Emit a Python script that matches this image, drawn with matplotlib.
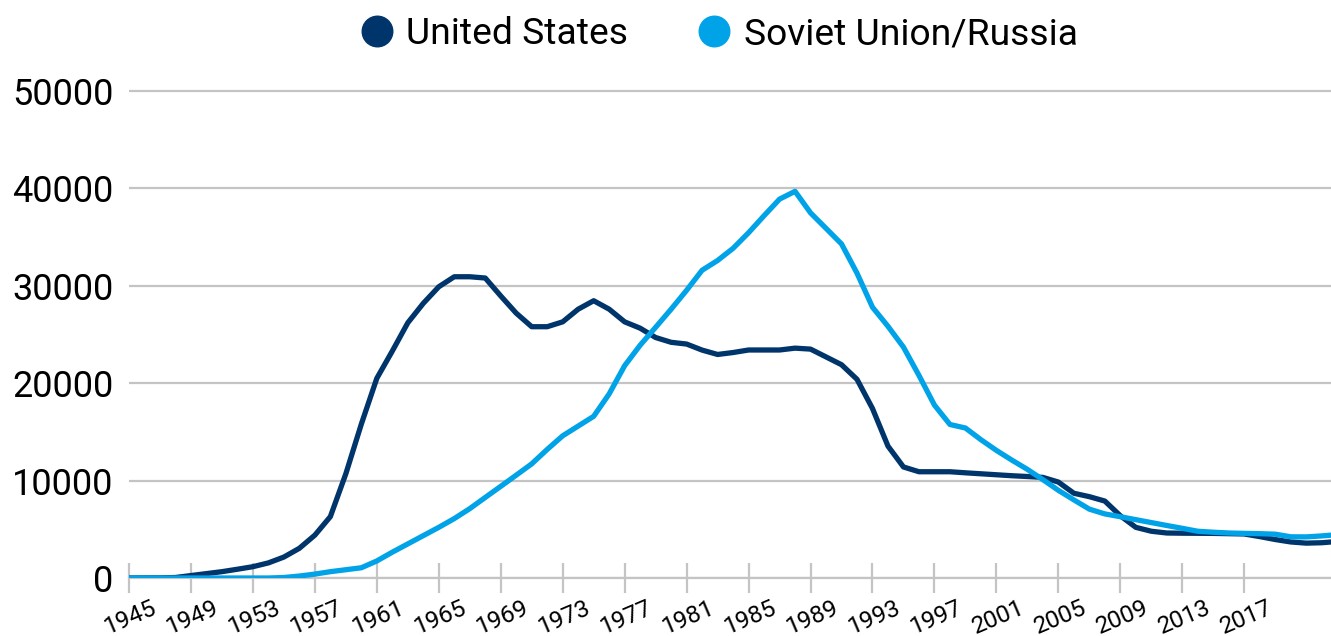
import matplotlib
matplotlib.use("Agg")
import matplotlib.pyplot as plt
from matplotlib.lines import Line2D
from matplotlib.transforms import ScaledTranslation

# ── data (warheads) ─────────────────────────────────────────────────────
years = list(range(1945, 2024))

us = [
    0, 10, 15, 50, 250, 450, 650, 900, 1160, 1550,                # 1945-54
    2150, 3050, 4400, 6300, 10700, 15800, 20500, 23300, 26200, 28200,  # 1955-64
    29900, 30930, 30930, 30800, 28960, 27190, 25800, 25800, 26300, 27600,  # 1965-74
    28470, 27600, 26300, 25650, 24690, 24200, 24020, 23400, 22950, 23150,  # 1975-84
    23410, 23410, 23410, 23600, 23500, 22700, 21900, 20400, 17400, 13540,  # 1985-94
    11400, 10910, 10910, 10910, 10800, 10700, 10600, 10500, 10420, 10330,  # 1995-04
    9850, 8700, 8350, 7900, 6390, 5200, 4800, 4620, 4600, 4590,        # 2005-14
    4580, 4550, 4520, 4250, 3950, 3700, 3580, 3620, 3750,             # 2015-23
]

ussr = [
    0, 0, 0, 0, 0, 0, 0, 0, 0, 0,                                  # 1945-54
    50, 200, 400, 650, 850, 1050, 1750, 2650, 3500, 4350,          # 1955-64
    5200, 6100, 7120, 8270, 9410, 10560, 11720, 13200, 14600, 15600,  # 1965-74
    16600, 18900, 21800, 23900, 25740, 27600, 29540, 31600, 32600, 33850,  # 1975-84
    35450, 37200, 38900, 39700, 37490, 35900, 34300, 31300, 27800, 25840,  # 1985-94
    23700, 20800, 17750, 15760, 15400, 14200, 13100, 12100, 11150, 10100,  # 1995-04
    9000, 8020, 7070, 6580, 6290, 5990, 5690, 5390, 5100, 4800,        # 2005-14
    4700, 4620, 4580, 4550, 4500, 4230, 4220, 4320, 4450,             # 2015-23
]

tick_years = list(range(1945, 2018, 4))
y_ticks = [0, 10000, 20000, 30000, 40000, 50000]

# ── style ───────────────────────────────────────────────────────────────
NAVY = "#00356B"
SKY = "#00A3E8"
GRID = "#C4C4C4"

plt.rcParams.update({
    "font.family": ["Roboto", "DejaVu Sans"],
})

fig = plt.figure(figsize=(13.31, 6.36), dpi=100)
ax = fig.add_axes([0.0969, 0.0912, 0.9031, 0.781])

ax.plot(years, us, color=NAVY, lw=3.8, solid_joinstyle="round", zorder=3)
ax.plot(years, ussr, color=SKY, lw=3.8, solid_joinstyle="round", zorder=4)

ax.set_xlim(1945, 2022.6)
ax.set_ylim(0, 51000)

ax.set_yticks(y_ticks)
ax.set_yticklabels([str(v) for v in y_ticks], fontsize=26)
ax.tick_params(axis="y", length=0, pad=11)
ax.yaxis.grid(True, color=GRID, lw=1.6)
ax.set_axisbelow(True)

ax.set_xticks(tick_years)
ax.set_xticklabels([str(y) for y in tick_years], fontsize=17.5, rotation=23,
                   ha="center", rotation_mode="default")
ax.tick_params(axis="x", direction="inout", length=22, width=1.6,
               color=GRID, pad=2)
shift = ScaledTranslation(2 / 100, 0, fig.dpi_scale_trans)
for lab in ax.get_xticklabels():
    lab.set_transform(lab.get_transform() + shift)

for s in ["top", "right", "left"]:
    ax.spines[s].set_visible(False)
ax.spines["bottom"].set_color(GRID)
ax.spines["bottom"].set_linewidth(1.6)

handles = [
    Line2D([], [], marker="o", ls="none", markersize=22, color=NAVY),
    Line2D([], [], marker="o", ls="none", markersize=22, color=SKY),
]
fig.legend(handles, ["United States", "Soviet Union/Russia"],
           loc="upper center", bbox_to_anchor=(0.538, 1.027), ncol=2,
           frameon=False, fontsize=26.8, handletextpad=0.2,
           columnspacing=1.7, handlelength=1.2)

fig.savefig("out.png", dpi=100)
